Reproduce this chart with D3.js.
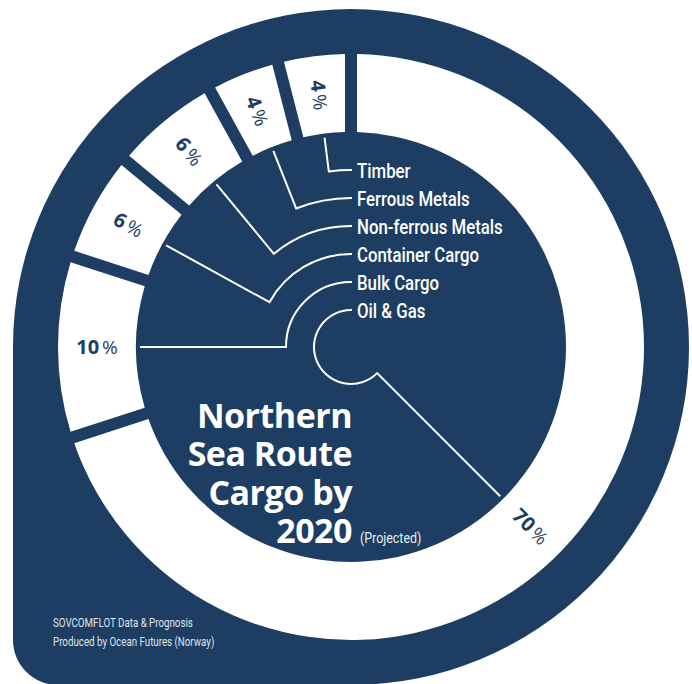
<!DOCTYPE html>
<html>
<head>
<meta charset="utf-8">
<script src="https://cdn.jsdelivr.net/npm/d3@7"></script>
<style>
  body { margin: 0; background: #fff; }
  svg { display: block; }
</style>
</head>
<body>
<div id="chart"></div>
<script>
// data
const categories = ["Oil & Gas", "Bulk Cargo", "Container Cargo", "Non-ferrous Metals", "Ferrous Metals", "Timber"];
const shares = [70, 10, 6, 6, 4, 4];
const legendOrder = categories.slice().reverse();
const titleLines = ["Northern", "Sea Route", "Cargo by", "2020"];
const sourceLines = ["SOVCOMFLOT Data & Prognosis", "Produced by Ocean Futures (Norway)"];

// layout
const width = 692, height = 684;
const cx = 351, cy = 347;
const outerR = 338;          // navy disc
const ringOuter = 293, ringInner = 215;
const labelR = 254;
const leaderEnd = 211;
const navy = "#1d3e62";
const condensed = "Roboto, 'Liberation Sans', sans-serif";   // squeezed with scaleX below

const svg = d3.select("#chart")
    .append("svg")
    .attr("width", width)
    .attr("height", height);

// navy background: disc with a square bottom-left corner
const bg = d3.path();
const corner = 45;
bg.moveTo(cx - outerR, cy);
bg.arc(cx, cy, outerR, Math.PI, Math.PI * 2.5, false);
bg.lineTo(cx - outerR + corner, cy + outerR);
bg.arcTo(cx - outerR, cy + outerR, cx - outerR, cy + outerR - corner, corner);
bg.closePath();
svg.append("path").attr("d", bg.toString()).attr("fill", navy);

const g = svg.append("g").attr("transform", `translate(${cx},${cy})`);

const pie = d3.pie().sort(null).value(d => d.share);
const arcs = pie(categories.map((c, i) => ({ name: c, share: shares[i] })));

const arc = d3.arc()
    .innerRadius(ringInner)
    .outerRadius(ringOuter)
    .padRadius(100)
    .padAngle(0.12);

g.selectAll("path.seg")
    .data(arcs)
    .join("path")
    .attr("class", "seg")
    .attr("d", arc)
    .attr("fill", "#fff");

// the big slice gets its label on the lower-right diagonal
function labelAngle(d) {
    return (d.endAngle - d.startAngle) > Math.PI / 2 ? Math.PI * 0.75 : (d.startAngle + d.endAngle) / 2;
}
const polar = (a, r) => [Math.sin(a) * r, -Math.cos(a) * r];

// percentage labels
g.selectAll("text.pct")
    .data(arcs)
    .join("text")
    .attr("class", "pct")
    .attr("transform", d => {
        const a = labelAngle(d);
        const [x, y] = polar(a, labelR);
        let rot = a * 180 / Math.PI - 270;
        while (rot < -90) rot += 180;
        while (rot > 90) rot -= 180;
        return `translate(${x},${y}) rotate(${rot})`;
    })
    .attr("text-anchor", "middle")
    .attr("dy", "0.36em")
    .attr("fill", navy)
    .attr("font-family", "'Open Sans', sans-serif")
    .attr("font-size", 20)
    .each(function (d) {
        const t = d3.select(this);
        t.append("tspan").attr("font-weight", 700).text(d.data.share);
        t.append("tspan").attr("font-weight", 400).attr("font-size", 19).attr("dx", 3).text("%");
    });

// legend with leader lines
const yLegend = d3.scalePoint().domain(legendOrder).range([170, 310]);
const textX = 357;

g.selectAll("path.leader")
    .data(arcs)
    .join("path")
    .attr("class", "leader")
    .attr("fill", "none")
    .attr("stroke", "#fff")
    .attr("stroke-width", 2)
    .attr("d", d => {
        const y = yLegend(d.data.name);
        const r = cy - y;
        const a = labelAngle(d);
        const p = d3.path();
        p.moveTo(textX - 5 - cx, y - cy);
        p.lineTo(0, -r);
        p.arc(0, 0, r, -Math.PI / 2, a - Math.PI / 2, true);
        const [ex, ey] = polar(a, leaderEnd);
        p.lineTo(ex, ey);
        return p.toString();
    });

svg.selectAll("text.legend")
    .data(legendOrder)
    .join("text")
    .attr("class", "legend")
    .attr("transform", d => `translate(${textX},${yLegend(d)}) scale(0.8,1)`)
    .attr("dy", "0.36em")
    .attr("fill", "#fff")
    .attr("font-family", condensed)
    .attr("font-weight", 500)
    .attr("font-size", 21)
    .text(d => d);

// title
svg.selectAll("text.title")
    .data(titleLines)
    .join("text")
    .attr("class", "title")
    .attr("x", 352)
    .attr("y", (d, i) => 428 + i * 38.3)
    .attr("text-anchor", "end")
    .attr("fill", "#fff")
    .attr("font-family", "'Open Sans', sans-serif")
    .attr("font-weight", 700)
    .attr("font-size", 34)
    .attr("letter-spacing", -0.5)
    .text(d => d);

svg.append("text")
    .attr("transform", "translate(360,543) scale(0.83,1)")
    .attr("fill", "#e6ebf0")
    .attr("font-family", condensed)
    .attr("font-size", 15)
    .text("(Projected)");

// source
svg.selectAll("text.source")
    .data(sourceLines)
    .join("text")
    .attr("class", "source")
    .attr("transform", (d, i) => `translate(53,${627 + i * 19}) scale(0.75,1)`)
    .attr("fill", "#dfe5ec")
    .attr("font-family", condensed)
    .attr("font-size", 13)
    .text(d => d);
</script>
</body>
</html>
